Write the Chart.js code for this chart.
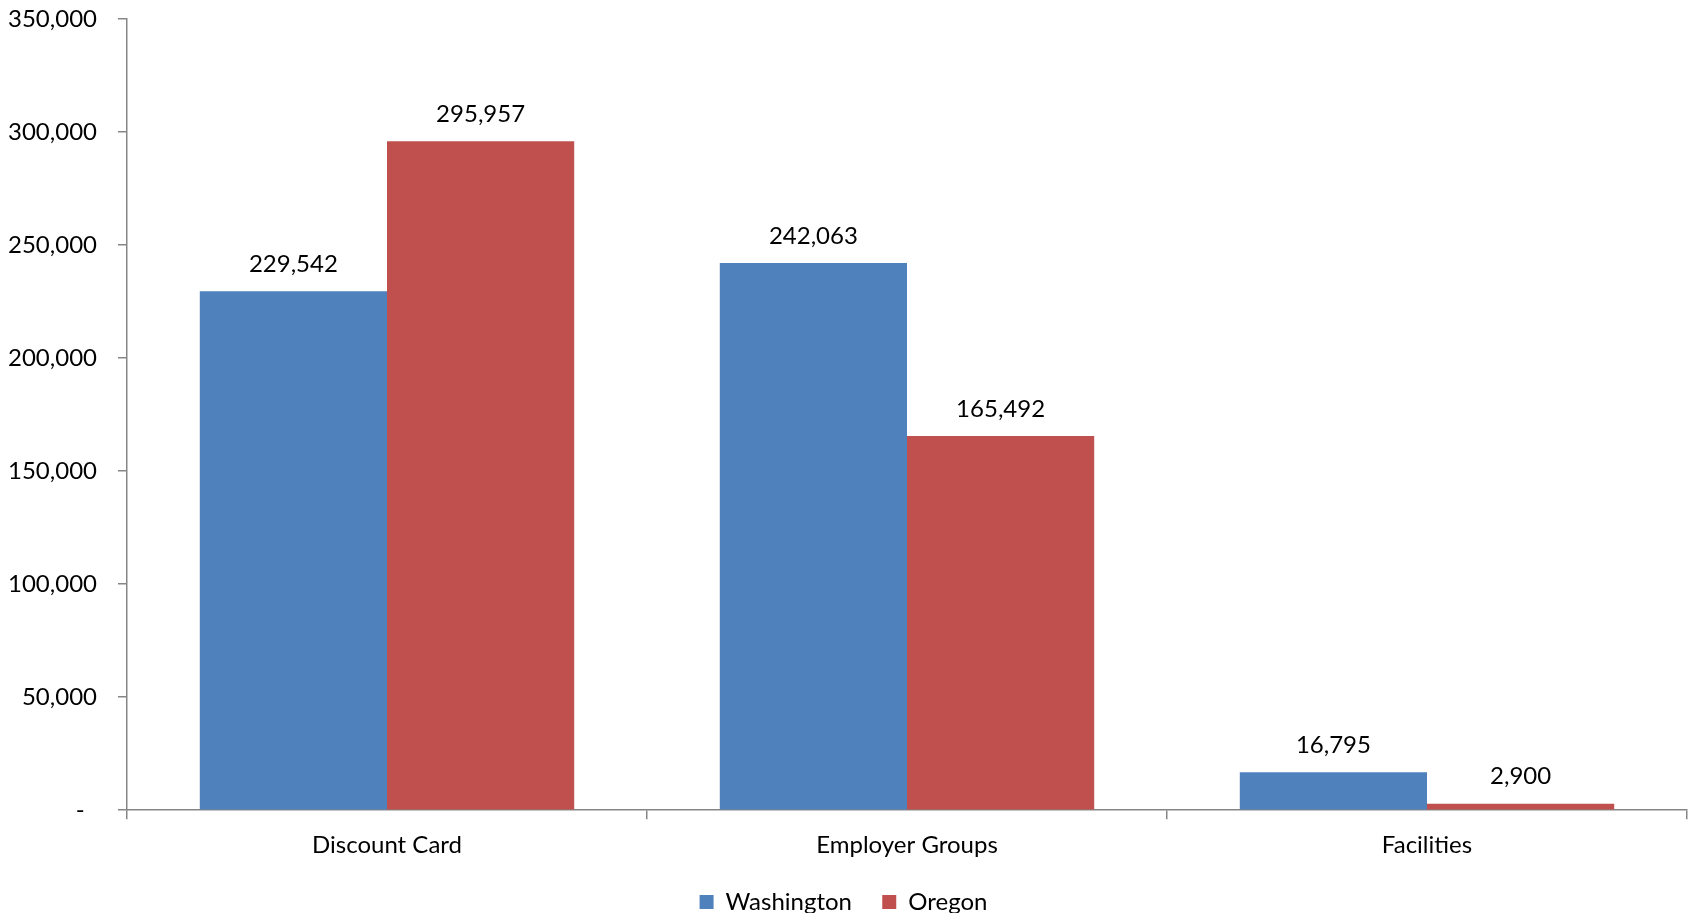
<!DOCTYPE html>
<html>
<head>
<meta charset="utf-8">
<script src="https://cdn.jsdelivr.net/npm/chart.js@4/dist/chart.umd.min.js"></script>
<style>
  html, body { margin: 0; padding: 0; background: #fff; }
  #wrap { width: 1690px; height: 913px; }
</style>
</head>
<body>
<div id="wrap"><canvas id="graphCanvas"></canvas></div>
<script>
var categories = ['Discount Card', 'Employer Groups', 'Facilities'];
var washington = [229542, 242063, 16795];
var oregon = [295957, 165492, 2900];
var yTicks = [0, 50000, 100000, 150000, 200000, 250000, 300000, 350000];

var fontName = 'Lato, "Open Sans", sans-serif';

function fmt(v) {
    return v.toLocaleString('en-US');
}

// draws the value above each bar
var barLabels = {
    id: 'barLabels',
    afterDatasetsDraw: function (chart) {
        var ctx = chart.ctx;
        ctx.save();
        ctx.font = '24px ' + fontName;
        ctx.fillStyle = '#000';
        ctx.textAlign = 'center';
        ctx.textBaseline = 'bottom';
        chart.data.datasets.forEach(function (ds, i) {
            var meta = chart.getDatasetMeta(i);
            meta.data.forEach(function (bar, j) {
                ctx.fillText(fmt(ds.data[j]), bar.x, bar.y - 15);
            });
        });
        ctx.restore();
    }
};

var chartdata = {
    labels: categories,
    datasets: [
        {
            label: 'Washington',
            backgroundColor: '#4F81BD',
            data: washington
        },
        {
            label: 'Oregon',
            backgroundColor: '#C0504D',
            data: oregon
        }
    ]
};

var barGraph = new Chart(document.getElementById('graphCanvas'), {
    type: 'bar',
    data: chartdata,
    plugins: [barLabels],
    options: {
        responsive: true,
        maintainAspectRatio: false,
        animation: false,
        layout: { padding: { top: 0, right: 3, bottom: -11, left: 0 } },
        datasets: {
            bar: { categoryPercentage: 0.72, barPercentage: 1.0 }
        },
        scales: {
            x: {
                grid: {
                    drawOnChartArea: false,
                    color: '#868686',
                    tickLength: 9,
                    lineWidth: 1.5
                },
                border: { color: '#868686', width: 1.5 },
                ticks: {
                    color: '#000',
                    padding: 12,
                    font: { family: fontName, size: 24 }
                }
            },
            y: {
                min: 0,
                max: 350000,
                afterBuildTicks: function (axis) {
                    axis.ticks = yTicks.map(function (v) { return { value: v }; });
                },
                afterFit: function (axis) {
                    axis.width = 127;
                    axis.paddingTop = 19;
                    axis.paddingBottom = 0;
                },
                grid: {
                    drawOnChartArea: false,
                    color: '#868686',
                    tickLength: 9,
                    lineWidth: 1.5
                },
                border: { color: '#868686', width: 1.5 },
                ticks: {
                    color: '#000',
                    padding: 21,
                    font: { family: fontName, size: 24 },
                    callback: function (value) {
                        return value === 0 ? '-  ' : fmt(value);
                    }
                }
            }
        },
        plugins: {
            legend: {
                position: 'bottom',
                labels: {
                    boxWidth: 14,
                    boxHeight: 14,
                    padding: 18,
                    color: '#000',
                    font: { family: fontName, size: 24 },
                    generateLabels: function (chart) {
                        var items = Chart.defaults.plugins.legend.labels.generateLabels(chart);
                        items[0].text = items[0].text + '  ';
                        return items;
                    }
                }
            },
            tooltip: { enabled: false }
        }
    }
});
</script>
</body>
</html>
